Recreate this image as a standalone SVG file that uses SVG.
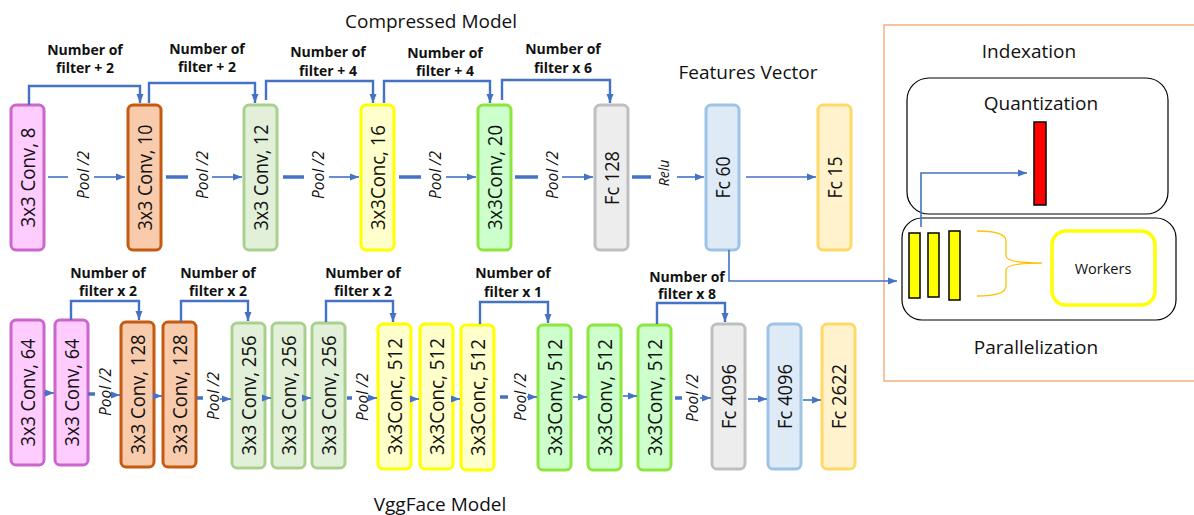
<svg xmlns="http://www.w3.org/2000/svg" width="1194" height="515" viewBox="0 0 1194 515">
<style>
.box{stroke-width:3}
.pk{fill:#FFCCFF;stroke:#CC66CC}
.or{fill:#F8CBAD;stroke:#C55A11}
.lg{fill:#E2F0D9;stroke:#A9D18E}
.ye{fill:#FFFFCC;stroke:#FFFF00}
.bg{fill:#CCFFCC;stroke:#8CE63C}
.gr{fill:#EDEDED;stroke:#BFBFBF}
.bl{fill:#DEEBF7;stroke:#9DC3E6}
.go{fill:#FFF2CC;stroke:#FFD966}
.bt{font-family:"Open Sans","Liberation Sans",sans-serif;font-size:20px;fill:#111;text-anchor:middle}
.ti{font-family:"Open Sans","Liberation Sans",sans-serif;font-size:19px;fill:#111;text-anchor:middle}
.lb{font-family:"Open Sans","Liberation Sans",sans-serif;font-size:14px;font-weight:bold;fill:#111;text-anchor:middle}
.pl{font-family:"Open Sans","Liberation Sans",sans-serif;font-size:15.5px;font-style:italic;fill:#111;text-anchor:middle}
.pl.sm{font-size:14px}
.c{fill:none;stroke:#4472C4}
.th{stroke-width:1.6}
.tk{stroke-width:3.5}
.sk{stroke-width:2.4}
</style>
<defs>
<marker id="ah" markerUnits="userSpaceOnUse" markerWidth="9" markerHeight="8" refX="9" refY="4" orient="auto">
<path d="M0,0.5 L9,4 L0,7.5 z" fill="#4472C4"/>
</marker>
</defs>

<!-- titles -->
<text class="ti" x="431" y="28">Compressed Model</text>
<text class="ti" x="748" y="79">Features Vector</text>
<text class="ti" x="440" y="511">VggFace Model</text>

<!-- Top row nodes -->
<g id="t1"><rect class="box pk" x="11" y="105" width="33" height="145" rx="5"/><text class="bt" transform="translate(27.5,177.5) rotate(-90)" dy="0.36em" textLength="100" lengthAdjust="spacingAndGlyphs">3x3 Conv, 8</text></g>
<g id="t2"><rect class="box or" x="128" y="105" width="33" height="145" rx="5"/><text class="bt" transform="translate(144.5,177.5) rotate(-90)" dy="0.36em" textLength="106" lengthAdjust="spacingAndGlyphs">3x3 Conv, 10</text></g>
<g id="t3"><rect class="box lg" x="244" y="105" width="33" height="145" rx="5"/><text class="bt" transform="translate(260.5,177.5) rotate(-90)" dy="0.36em" textLength="106" lengthAdjust="spacingAndGlyphs">3x3 Conv, 12</text></g>
<g id="t4"><rect class="box ye" x="361" y="105" width="33" height="145" rx="5"/><text class="bt" transform="translate(377.5,177.5) rotate(-90)" dy="0.36em" textLength="105" lengthAdjust="spacingAndGlyphs">3x3Conc, 16</text></g>
<g id="t5"><rect class="box bg" x="478" y="105" width="33" height="145" rx="5"/><text class="bt" transform="translate(494.5,177.5) rotate(-90)" dy="0.36em" textLength="105" lengthAdjust="spacingAndGlyphs">3x3Conv, 20</text></g>
<g id="t6"><rect class="box gr" x="595" y="105" width="33" height="145" rx="5"/><text class="bt" transform="translate(611.5,178) rotate(-90)" dy="0.36em" textLength="54" lengthAdjust="spacingAndGlyphs">Fc 128</text></g>
<g id="t7"><rect class="box bl" x="706" y="105" width="33" height="145" rx="5"/><text class="bt" transform="translate(722.5,177.5) rotate(-90)" dy="0.36em" textLength="42" lengthAdjust="spacingAndGlyphs">Fc 60</text></g>
<g id="t8"><rect class="box go" x="818" y="105" width="33" height="145" rx="5"/><text class="bt" transform="translate(834.5,177.5) rotate(-90)" dy="0.36em" textLength="42" lengthAdjust="spacingAndGlyphs">Fc 15</text></g>

<!-- Bottom row nodes -->
<g id="b1"><rect class="box pk" x="11" y="320" width="33" height="145" rx="5"/><text class="bt" transform="translate(27.5,392.5) rotate(-90)" dy="0.36em" textLength="108" lengthAdjust="spacingAndGlyphs">3x3 Conv, 64</text></g>
<g id="b2"><rect class="box pk" x="55" y="320" width="33" height="145" rx="5"/><text class="bt" transform="translate(71.5,392.5) rotate(-90)" dy="0.36em" textLength="108" lengthAdjust="spacingAndGlyphs">3x3 Conv, 64</text></g>
<g id="b3"><rect class="box or" x="121" y="322" width="33" height="145" rx="5"/><text class="bt" transform="translate(137.5,394.5) rotate(-90)" dy="0.36em" textLength="120" lengthAdjust="spacingAndGlyphs">3x3 Conv, 128</text></g>
<g id="b4"><rect class="box or" x="163" y="322" width="33" height="145" rx="5"/><text class="bt" transform="translate(179.5,394.5) rotate(-90)" dy="0.36em" textLength="120" lengthAdjust="spacingAndGlyphs">3x3 Conv, 128</text></g>
<g id="b5"><rect class="box lg" x="232" y="323" width="33" height="145" rx="5"/><text class="bt" transform="translate(248.5,395.5) rotate(-90)" dy="0.36em" textLength="120" lengthAdjust="spacingAndGlyphs">3x3 Conv, 256</text></g>
<g id="b6"><rect class="box lg" x="272" y="323" width="33" height="145" rx="5"/><text class="bt" transform="translate(288.5,395.5) rotate(-90)" dy="0.36em" textLength="120" lengthAdjust="spacingAndGlyphs">3x3 Conv, 256</text></g>
<g id="b7"><rect class="box lg" x="312" y="323" width="33" height="145" rx="5"/><text class="bt" transform="translate(328.5,395.5) rotate(-90)" dy="0.36em" textLength="120" lengthAdjust="spacingAndGlyphs">3x3 Conv, 256</text></g>
<g id="b8"><rect class="box ye" x="378" y="324" width="33" height="145" rx="5"/><text class="bt" transform="translate(394.5,396.5) rotate(-90)" dy="0.36em" textLength="117" lengthAdjust="spacingAndGlyphs">3x3Conc, 512</text></g>
<g id="b9"><rect class="box ye" x="420" y="324" width="33" height="145" rx="5"/><text class="bt" transform="translate(436.5,396.5) rotate(-90)" dy="0.36em" textLength="117" lengthAdjust="spacingAndGlyphs">3x3Conc, 512</text></g>
<g id="b10"><rect class="box ye" x="461" y="325" width="33" height="145" rx="5"/><text class="bt" transform="translate(477.5,397.5) rotate(-90)" dy="0.36em" textLength="117" lengthAdjust="spacingAndGlyphs">3x3Conc, 512</text></g>
<g id="b11"><rect class="box bg" x="538" y="325" width="33" height="145" rx="5"/><text class="bt" transform="translate(554.5,397.5) rotate(-90)" dy="0.36em" textLength="117" lengthAdjust="spacingAndGlyphs">3x3Conv, 512</text></g>
<g id="b12"><rect class="box bg" x="588" y="325" width="33" height="145" rx="5"/><text class="bt" transform="translate(604.5,397.5) rotate(-90)" dy="0.36em" textLength="117" lengthAdjust="spacingAndGlyphs">3x3Conv, 512</text></g>
<g id="b13"><rect class="box bg" x="638" y="325" width="33" height="145" rx="5"/><text class="bt" transform="translate(654.5,397.5) rotate(-90)" dy="0.36em" textLength="117" lengthAdjust="spacingAndGlyphs">3x3Conv, 512</text></g>
<g id="b14"><rect class="box gr" x="712" y="324" width="33" height="145" rx="5"/><text class="bt" transform="translate(728.5,396.5) rotate(-90)" dy="0.36em" textLength="65" lengthAdjust="spacingAndGlyphs">Fc 4096</text></g>
<g id="b15"><rect class="box bl" x="768" y="324" width="33" height="145" rx="5"/><text class="bt" transform="translate(784.5,396.5) rotate(-90)" dy="0.36em" textLength="65" lengthAdjust="spacingAndGlyphs">Fc 4096</text></g>
<g id="b16"><rect class="box go" x="822" y="324" width="33" height="145" rx="5"/><text class="bt" transform="translate(838.5,396.5) rotate(-90)" dy="0.36em" textLength="65" lengthAdjust="spacingAndGlyphs">Fc 2622</text></g>

<!-- Right panel -->
<g id="indexation">
<rect x="884" y="25" width="330" height="356" fill="none" stroke="#F4B183" stroke-width="1.5"/>
<text class="ti" x="1029" y="58">Indexation</text>
</g>
<g id="quantization">
<rect x="907" y="78" width="261" height="136" rx="22" fill="#fff" stroke="#000" stroke-width="1.2"/>
<text class="ti" x="1041" y="110">Quantization</text>
<rect x="1034" y="122" width="12" height="83" fill="#FF0000" stroke="#000" stroke-width="1.5"/>
</g>
<g id="parallelization">
<rect x="902" y="218" width="274" height="102" rx="20" fill="#fff" stroke="#000" stroke-width="1.2"/>
<rect x="909" y="233" width="11" height="65" fill="#FFFF00" stroke="#000" stroke-width="1.5"/>
<rect x="928" y="233" width="11" height="64" fill="#FFFF00" stroke="#000" stroke-width="1.5"/>
<rect x="949" y="231" width="11" height="69" fill="#FFFF00" stroke="#000" stroke-width="1.5"/>
<path d="M977,231 Q1006,231 1006,241 V256 Q1006,263 1042,263 Q1006,263 1006,270 V286 Q1006,296 977,296" fill="none" stroke="#FFC000" stroke-width="1.3"/>
<text class="ti" x="1036" y="354">Parallelization</text>
</g>
<g id="workers">
<rect x="1052" y="231" width="103" height="74" rx="14" fill="#fff" stroke="#FFFF00" stroke-width="3.5"/>
<text x="1103" y="274" font-family="Open Sans, Liberation Sans, sans-serif" font-size="14.5" fill="#111" text-anchor="middle">Workers</text>
</g>

<!-- Connectors -->
<g id="connectors">
<!-- top pool arrows -->
<path class="c th" d="M48,177 H68"/><path class="c th" d="M94,177 H125" marker-end="url(#ah)"/>
<path class="c tk" d="M166,177 H188"/><path class="c th" d="M212,177 H242" marker-end="url(#ah)"/>
<path class="c tk" d="M283,177 H304"/><path class="c th" d="M329,177 H359" marker-end="url(#ah)"/>
<path class="c tk" d="M399,177 H421"/><path class="c th" d="M446,177 H476" marker-end="url(#ah)"/>
<path class="c tk" d="M515,177 H538"/><path class="c th" d="M562,177 H593" marker-end="url(#ah)"/>
<path class="c tk" d="M632,177 H651"/><path class="c th" d="M677,177 H704" marker-end="url(#ah)"/>
<path class="c th" d="M746,177 H816" marker-end="url(#ah)"/>
<!-- top skip -->
<path class="c sk" d="M29,105 V86 H140 V103" marker-end="url(#ah)"/>
<path class="c sk" d="M149,103 V83 H255 V103" marker-end="url(#ah)"/>
<path class="c sk" d="M266,100 V81 H373 V103" marker-end="url(#ah)"/>
<path class="c sk" d="M384,103 V81 H490 V103" marker-end="url(#ah)"/>
<path class="c sk" d="M502,100 V80 H610 V103" marker-end="url(#ah)"/>
<!-- to indexation -->
<path class="c th" d="M729,250 V281 H897" marker-end="url(#ah)"/>
<path class="c th" d="M921,227 V173 H1027" marker-end="url(#ah)"/>
<!-- bottom chain -->
<path class="c th" d="M44,393 H54" marker-end="url(#ah)"/>
<path class="c tk" d="M88,394 H95"/><path class="c th" d="M113,395 H120" marker-end="url(#ah)"/>
<path class="c th" d="M154,396 H162" marker-end="url(#ah)"/>
<path class="c tk" d="M197,398 H203"/><path class="c th" d="M220,399 H231" marker-end="url(#ah)"/>
<path class="c th" d="M265,398 H271" marker-end="url(#ah)"/>
<path class="c th" d="M305,398 H311" marker-end="url(#ah)"/>
<path class="c tk" d="M347,398 H352"/><path class="c th" d="M368,398 H377" marker-end="url(#ah)"/>
<path class="c th" d="M411,399 H419" marker-end="url(#ah)"/>
<path class="c th" d="M454,399 H460" marker-end="url(#ah)"/>
<path class="c tk" d="M500,397 H508"/><path class="c th" d="M527,397 H537" marker-end="url(#ah)"/>
<path class="c th" d="M573,397 H587" marker-end="url(#ah)"/>
<path class="c th" d="M623,396 H637" marker-end="url(#ah)"/>
<path class="c tk" d="M675,398 H682"/><path class="c th" d="M700,398 H711" marker-end="url(#ah)"/>
<path class="c th" d="M748,399 H767" marker-end="url(#ah)"/>
<path class="c th" d="M803,400 H821" marker-end="url(#ah)"/>
<!-- bottom skip -->
<path class="c sk" d="M71,320 V301 H139 V320" marker-end="url(#ah)"/>
<path class="c sk" d="M181,322 V301 H248 V321" marker-end="url(#ah)"/>
<path class="c sk" d="M326,322 V301 H393 V322" marker-end="url(#ah)"/>
<path class="c sk" d="M480,324 V302 H548 V323" marker-end="url(#ah)"/>
<path class="c sk" d="M657,324 V303 H725 V322" marker-end="url(#ah)"/>
<!-- pool labels -->
<text class="pl" transform="translate(83,175) rotate(-90)" dy="0.36em">Pool /2</text>
<text class="pl" transform="translate(202,175) rotate(-90)" dy="0.36em">Pool /2</text>
<text class="pl" transform="translate(318,175) rotate(-90)" dy="0.36em">Pool /2</text>
<text class="pl" transform="translate(435,175) rotate(-90)" dy="0.36em">Pool /2</text>
<text class="pl" transform="translate(552,175) rotate(-90)" dy="0.36em">Pool /2</text>
<text class="pl sm" transform="translate(664,173) rotate(-90)" dy="0.36em">Relu</text>
<text class="pl" transform="translate(105,392) rotate(-90)" dy="0.36em">Pool /2</text>
<text class="pl" transform="translate(213,396) rotate(-90)" dy="0.36em">Pool /2</text>
<text class="pl" transform="translate(362,397) rotate(-90)" dy="0.36em">Pool /2</text>
<text class="pl" transform="translate(520,397) rotate(-90)" dy="0.36em">Pool /2</text>
<text class="pl" transform="translate(692,398) rotate(-90)" dy="0.36em">Pool /2</text>
<!-- skip labels -->
<text class="lb" x="85" y="55">Number of</text><text class="lb" x="85" y="73">filter + 2</text>
<text class="lb" x="207" y="54">Number of</text><text class="lb" x="207" y="72">filter + 2</text>
<text class="lb" x="328" y="57">Number of</text><text class="lb" x="328" y="76">filter + 4</text>
<text class="lb" x="445" y="58">Number of</text><text class="lb" x="445" y="76">filter + 4</text>
<text class="lb" x="563" y="54">Number of</text><text class="lb" x="563" y="73">filter x 6</text>
<text class="lb" x="108" y="278">Number of</text><text class="lb" x="108" y="296">filter x 2</text>
<text class="lb" x="218" y="278">Number of</text><text class="lb" x="218" y="296">filter x 2</text>
<text class="lb" x="363" y="278">Number of</text><text class="lb" x="363" y="296">filter x 2</text>
<text class="lb" x="513" y="278">Number of</text><text class="lb" x="513" y="297">filter x 1</text>
<text class="lb" x="687" y="282">Number of</text><text class="lb" x="687" y="299">filter x 8</text>
</g>
</svg>
